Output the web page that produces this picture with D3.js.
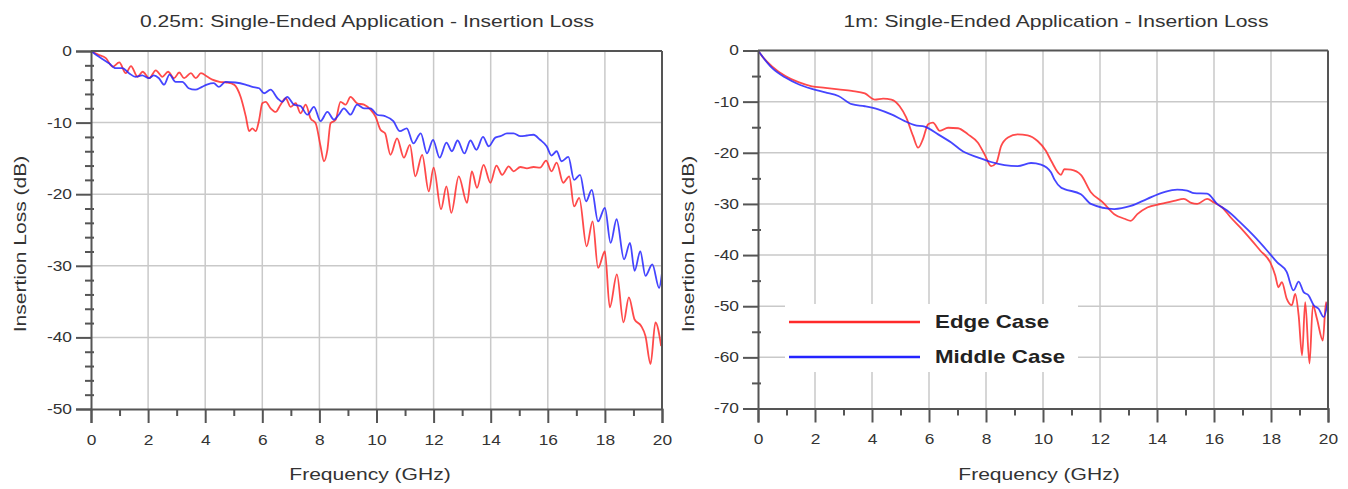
<!DOCTYPE html>
<html>
<head>
<meta charset="utf-8">
<script src="https://cdn.jsdelivr.net/npm/d3@7"></script>
<style>
  body { margin: 0; background: #fff; }
  text { font-family: "Liberation Sans", Arial, sans-serif; }
</style>
</head>
<body>
<div id="chart"></div>
<script>
// frequency (GHz), insertion loss (dB)
var edgeShort = [[0,0],[0.25,-0.5],[0.52,-1.0],[0.76,-2.2],[0.99,-1.6],[1.22,-3.1],[1.40,-2.1],[1.63,-3.6],[1.81,-2.9],[2.04,-3.8],[2.27,-2.7],[2.5,-3.6],[2.7,-2.9],[2.91,-3.8],[3.09,-3.0],[3.26,-3.8],[3.5,-3.1],[3.67,-3.8],[3.85,-3.1],[4.08,-3.6],[4.25,-4.0],[4.5,-4.3],[4.75,-4.4],[5.01,-4.7],[5.24,-6.4],[5.42,-9.1],[5.54,-11.2],[5.65,-10.8],[5.77,-11.2],[5.89,-9.6],[6.0,-7.3],[6.12,-7.1],[6.29,-8.0],[6.47,-8.5],[6.64,-7.5],[6.82,-6.6],[6.99,-7.8],[7.17,-7.3],[7.34,-8.7],[7.52,-7.5],[7.69,-9.4],[7.87,-10.1],[8.04,-13.3],[8.16,-15.4],[8.28,-13.8],[8.39,-10.1],[8.57,-9.6],[8.74,-7.1],[8.92,-7.5],[9.09,-6.4],[9.32,-7.3],[9.56,-7.5],[9.79,-8.2],[9.97,-9.2],[10.14,-11.0],[10.3,-11.5],[10.49,-14.5],[10.72,-12.2],[10.96,-14.9],[11.17,-13.1],[11.36,-17.5],[11.6,-14.5],[11.83,-19.6],[12.0,-16.3],[12.26,-22.1],[12.45,-18.9],[12.62,-22.6],[12.88,-17.5],[13.17,-21.2],[13.34,-16.8],[13.52,-19.1],[13.75,-15.9],[13.99,-18.4],[14.2,-16.0],[14.4,-17.3],[14.63,-16.1],[14.8,-16.8],[15.04,-16.2],[15.27,-16.4],[15.5,-16.2],[15.73,-16.3],[15.94,-15.3],[16.13,-16.8],[16.31,-15.6],[16.54,-18.4],[16.75,-17.5],[16.92,-21.7],[17.1,-20.5],[17.36,-27.3],[17.57,-23.8],[17.76,-30.3],[18.0,-28.0],[18.17,-35.8],[18.42,-31.2],[18.65,-37.9],[18.84,-34.4],[19.04,-37.5],[19.27,-38.4],[19.42,-39.8],[19.6,-43.7],[19.77,-37.9],[19.97,-41.2]];

var middleShort = [[0,0],[0.2,-0.6],[0.45,-1.25],[0.63,-1.7],[0.86,-2.4],[1.1,-2.4],[1.33,-3.1],[1.56,-3.6],[1.79,-3.4],[2.03,-3.8],[2.2,-3.4],[2.38,-3.8],[2.56,-4.7],[2.75,-3.3],[2.96,-4.3],[3.2,-4.3],[3.42,-5.2],[3.65,-5.4],[3.89,-5.0],[4.06,-4.7],[4.3,-4.5],[4.48,-5.0],[4.71,-4.3],[5.06,-4.4],[5.41,-4.7],[5.65,-5.0],[5.89,-5.2],[6.06,-5.9],[6.29,-5.4],[6.53,-6.6],[6.7,-7.1],[6.87,-6.4],[7.11,-7.5],[7.34,-7.7],[7.58,-8.9],[7.81,-7.8],[8.04,-9.8],[8.28,-8.5],[8.51,-9.6],[8.68,-8.9],[8.86,-8.0],[9.09,-8.9],[9.32,-7.5],[9.56,-8.0],[9.79,-8.0],[10.02,-8.9],[10.3,-9.1],[10.59,-9.8],[10.82,-11.2],[11.06,-10.8],[11.29,-12.9],[11.55,-11.5],[11.77,-14.3],[11.98,-12.4],[12.21,-14.9],[12.45,-12.8],[12.64,-14.0],[12.84,-12.5],[13.08,-14.3],[13.29,-12.5],[13.5,-13.8],[13.73,-12.0],[13.93,-13.3],[14.16,-12.1],[14.34,-11.9],[14.57,-11.5],[14.8,-11.5],[15.04,-11.9],[15.27,-11.8],[15.5,-11.7],[15.73,-12.4],[15.96,-13.3],[16.13,-14.6],[16.31,-14.0],[16.48,-15.4],[16.72,-14.8],[16.92,-18.0],[17.13,-17.3],[17.34,-21.0],[17.54,-19.4],[17.76,-23.8],[18.0,-21.9],[18.2,-26.8],[18.41,-23.5],[18.67,-29.1],[18.88,-26.8],[19.04,-30.7],[19.24,-28.0],[19.42,-31.4],[19.66,-29.8],[19.9,-33.1],[20,-31.0]];

var edgeLong = [[0,0],[0.2,-1.5],[0.49,-3.1],[0.96,-5.0],[1.42,-6.2],[1.89,-7.0],[2.36,-7.3],[2.82,-7.6],[3.29,-7.9],[3.75,-8.4],[4.1,-9.6],[4.39,-9.4],[4.68,-9.6],[4.97,-10.9],[5.2,-13.1],[5.44,-16.7],[5.62,-19.0],[5.79,-17.3],[5.97,-14.4],[6.14,-14.1],[6.38,-15.7],[6.67,-15.1],[7.02,-15.2],[7.37,-16.4],[7.71,-18.0],[7.95,-20.3],[8.18,-22.6],[8.36,-22.0],[8.53,-18.7],[8.77,-17.0],[9.11,-16.4],[9.46,-16.6],[9.81,-17.7],[10.1,-19.6],[10.28,-21.5],[10.63,-24.3],[10.75,-23.2],[10.98,-23.3],[11.33,-24.3],[11.68,-27.7],[12.1,-29.7],[12.5,-32.0],[12.86,-32.9],[13.08,-33.3],[13.31,-32.0],[13.66,-30.7],[14.13,-30.0],[14.6,-29.4],[14.94,-29.0],[15.2,-29.8],[15.41,-30.0],[15.76,-29.0],[15.99,-29.7],[16.29,-30.7],[16.58,-32.6],[16.92,-34.6],[17.27,-36.8],[17.62,-39.1],[17.97,-41.4],[18.15,-44.0],[18.26,-46.3],[18.38,-45.3],[18.55,-48.5],[18.73,-49.8],[18.85,-47.6],[18.97,-51.8],[19.09,-59.6],[19.2,-49.2],[19.35,-61.2],[19.47,-49.8],[19.61,-52.4],[19.82,-56.7],[19.93,-49.2],[20,-51.2]];

var middleLong = [[0,0],[0.49,-3.4],[0.96,-5.3],[1.42,-6.6],[1.89,-7.5],[2.36,-8.2],[2.82,-8.9],[3.29,-10.5],[3.75,-10.9],[4.22,-11.5],[4.68,-12.5],[5.15,-13.8],[5.5,-14.6],[5.85,-14.9],[6.32,-16.4],[6.78,-18.0],[7.25,-19.9],[7.71,-20.9],[8.18,-21.8],[8.65,-22.4],[9.11,-22.6],[9.58,-22.0],[9.93,-22.3],[10.28,-23.8],[10.4,-25.2],[10.63,-26.8],[10.75,-27.1],[11.33,-28.1],[11.68,-30.0],[12.5,-31.0],[13.08,-30.4],[13.66,-29.0],[14.25,-27.7],[14.71,-27.2],[15.06,-27.4],[15.3,-27.9],[15.76,-28.0],[16.11,-30.0],[16.46,-31.3],[16.92,-33.6],[17.39,-36.2],[17.86,-39.1],[18.21,-41.4],[18.55,-43.3],[18.79,-46.9],[18.97,-45.2],[19.14,-47.2],[19.32,-47.9],[19.5,-49.8],[19.67,-50.5],[19.85,-52.1],[20,-48.9]];

var xTicks = [0,2,4,6,8,10,12,14,16,18,20];
var legendNames = ["Edge Case", "Middle Case"];
var seriesColors = ["#ff2a2a", "#2424ff"];

var stretch = 1.24; // the source picture is wider than tall, text looks stretched

var svg = d3.select("#chart").append("svg")
    .attr("width", 1348)
    .attr("height", 489);

function label(g, x, y, rot, size, txt) {
    return g.append("text")
        .attr("transform", `translate(${x}, ${y}) rotate(${rot}) scale(${stretch}, 1)`)
        .attr("text-anchor", "middle")
        .attr("font-size", size)
        .attr("fill", "#333")
        .text(txt);
}

function drawPanel(cfg) {
    var x = d3.scaleLinear().domain([0, 20]).range([cfg.left, cfg.right]);
    var y = d3.scaleLinear().domain([cfg.yMin, 0]).range([cfg.bottom, cfg.top]);
    var g = svg.append("g");

    var yMajor = d3.range(cfg.yMin, 1, 10);
    var yMinor = d3.range(cfg.yMin, 1, cfg.minorStep).filter(d => d % 10 != 0);

    // grid
    g.selectAll(".vgrid").data(xTicks.slice(1, -1)).enter().append("line")
        .attr("x1", d => x(d)).attr("x2", d => x(d))
        .attr("y1", cfg.top).attr("y2", cfg.bottom)
        .attr("stroke", "#c9c9c9").attr("stroke-width", 1.5);
    g.selectAll(".hgrid").data(yMajor.slice(1, -1)).enter().append("line")
        .attr("x1", cfg.left).attr("x2", cfg.right)
        .attr("y1", d => y(d)).attr("y2", d => y(d))
        .attr("stroke", "#c9c9c9").attr("stroke-width", 1.5);

    // curves
    var line = d3.line()
        .x(d => x(d[0]))
        .y(d => y(d[1]))
        .curve(d3.curveMonotoneX);
    cfg.series.forEach(function(s, i) {
        g.append("path")
            .datum(s)
            .attr("d", line)
            .attr("fill", "none")
            .attr("stroke", seriesColors[i])
            .attr("stroke-opacity", 0.85)
            .attr("stroke-width", 1.8);
    });

    // border top / right
    g.append("line").attr("x1", cfg.left).attr("x2", cfg.right)
        .attr("y1", cfg.top).attr("y2", cfg.top)
        .attr("stroke", "#555").attr("stroke-width", 2);
    g.append("line").attr("x1", cfg.right).attr("x2", cfg.right)
        .attr("y1", cfg.top).attr("y2", cfg.bottom)
        .attr("stroke", "#555").attr("stroke-width", 2);

    // x axis
    var xAxis = g.append("g")
        .attr("transform", `translate(0, ${cfg.bottom})`)
        .call(d3.axisBottom(x).tickValues(xTicks).tickSize(14).tickPadding(12).tickFormat(d => String(d)));
    g.append("g")
        .attr("transform", `translate(0, ${cfg.bottom})`)
        .call(d3.axisBottom(x).tickValues(d3.range(1, 20, 2)).tickSize(7).tickFormat(""))
        .call(a => a.select(".domain").remove());

    // y axis
    var yAxis = g.append("g")
        .attr("transform", `translate(${cfg.left}, 0)`)
        .call(d3.axisLeft(y).tickValues(yMajor).tickSize(15).tickPadding(4).tickFormat(d => String(d)));
    g.append("g")
        .attr("transform", `translate(${cfg.left + 3}, 0)`)
        .call(d3.axisLeft(y).tickValues(yMinor).tickSize(9).tickFormat(""))
        .call(a => a.select(".domain").remove());

    g.selectAll(".domain").attr("stroke", "#555").attr("stroke-width", 2);
    g.selectAll(".tick line").attr("stroke", "#555").attr("stroke-width", 2);
    g.selectAll(".tick text")
        .attr("font-family", "Liberation Sans, Arial, sans-serif")
        .attr("font-size", "14px")
        .attr("fill", "#333")
        .each(function() {
            var t = d3.select(this);
            var tx = +t.attr("x") || 0;
            t.attr("x", 0).attr("transform", `translate(${tx}, 0) scale(${stretch}, 1)`);
        });

    // titles
    label(g, cfg.titleX, 27, 0, "17px", cfg.title);
    label(g, cfg.xlabelX, 480, 0, "17px", "Frequency (GHz)");
    label(g, cfg.ylabelX, 244, -90, "17px", "Insertion Loss (dB)");

    return {x: x, y: y, g: g};
}

drawPanel({
    left: 91, right: 662, top: 51, bottom: 409,
    yMin: -50, minorStep: 2,
    title: "0.25m: Single-Ended Application - Insertion Loss",
    titleX: 367, xlabelX: 370, ylabelX: 26,
    series: [edgeShort, middleShort]
});

drawPanel({
    left: 758, right: 1328, top: 50.5, bottom: 408.5,
    yMin: -70, minorStep: 5,
    title: "1m: Single-Ended Application - Insertion Loss",
    titleX: 1056, xlabelX: 1039, ylabelX: 694,
    series: [edgeLong, middleLong]
});

// legend
var legend = svg.append("g");
legend.append("rect")
    .attr("x", 785).attr("y", 304)
    .attr("width", 293).attr("height", 68)
    .attr("fill", "#fff");
legendNames.forEach(function(name, i) {
    var ly = 322 + i * 35;
    legend.append("line")
        .attr("x1", 789).attr("x2", 920)
        .attr("y1", ly).attr("y2", ly)
        .attr("stroke", seriesColors[i])
        .attr("stroke-width", 2.5);
    legend.append("text")
        .attr("transform", `translate(935, ${ly + 6}) scale(${stretch}, 1)`)
        .attr("font-size", "18px")
        .attr("font-weight", "bold")
        .attr("fill", "#222")
        .text(name);
});
</script>
</body>
</html>
